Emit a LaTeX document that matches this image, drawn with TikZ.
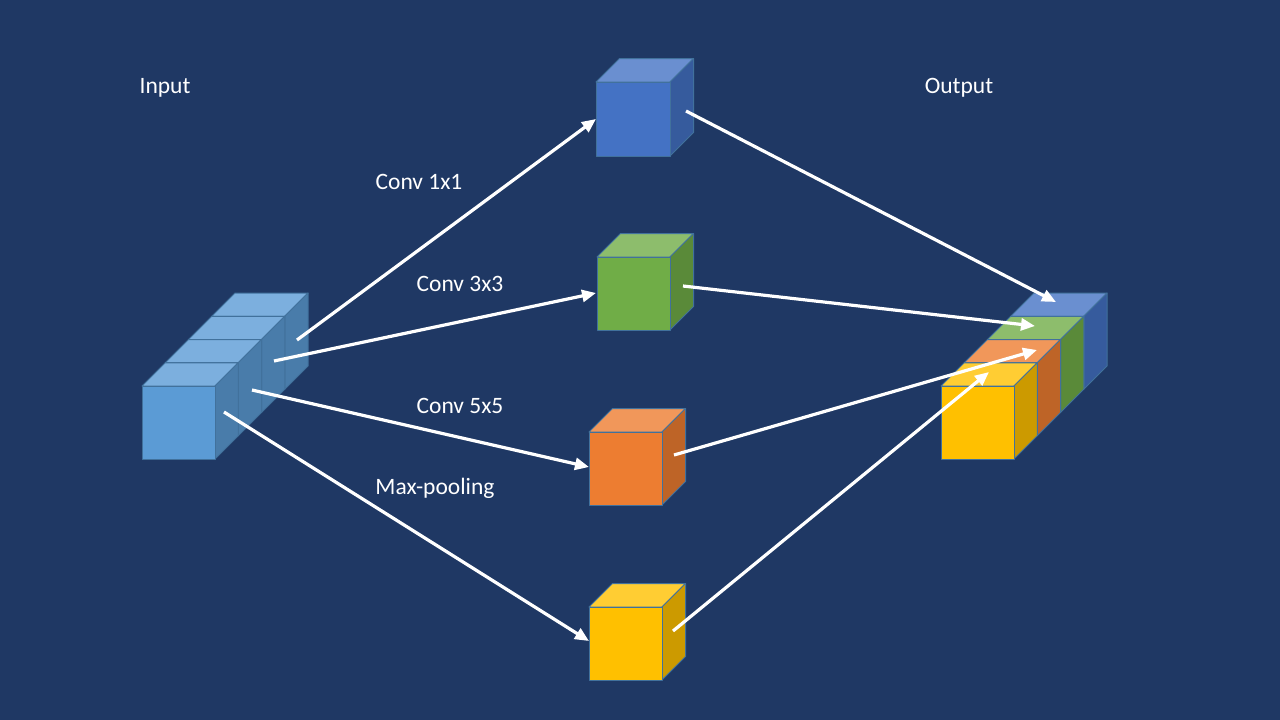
\documentclass[tikz,border=0pt]{standalone}
\usepackage{fontspec}
\setmainfont{Carlito}
\usetikzlibrary{arrows.meta}
\definecolor{bg}{HTML}{1F3864}
\definecolor{edge}{HTML}{41719C}
\definecolor{inF}{HTML}{5B9BD5}\definecolor{inT}{HTML}{7CAFDE}\definecolor{inS}{HTML}{497CAA}
\definecolor{bF}{HTML}{4472C4}\definecolor{bT}{HTML}{6A8FD0}\definecolor{bS}{HTML}{365B9D}
\definecolor{gF}{HTML}{70AD47}\definecolor{gT}{HTML}{8DBD6C}\definecolor{gS}{HTML}{5A8A39}
\definecolor{oF}{HTML}{ED7D31}\definecolor{oT}{HTML}{F1975A}\definecolor{oS}{HTML}{BE6427}
\definecolor{yF}{HTML}{FFC000}\definecolor{yT}{HTML}{FFCD33}\definecolor{yS}{HTML}{CC9A00}
\newcommand{\mycube}[7]{% x y w d front top side
  \filldraw[facestyle,fill=#6] (#1,#2) -- ({#1+#4},{#2-#4}) -- ({#1+#3+#4},{#2-#4}) -- ({#1+#3},#2) -- cycle;
  \filldraw[facestyle,fill=#7] ({#1+#3},#2) -- ({#1+#3+#4},{#2-#4}) -- ({#1+#3+#4},{#2+#3-#4}) -- ({#1+#3},{#2+#3}) -- cycle;
  \filldraw[facestyle,fill=#5] (#1,#2) rectangle ({#1+#3},{#2+#3});
}
\tikzset{
  facestyle/.style={draw=edge,line width=1pt,line join=round},
  flow/.style={draw=white,line width=3.2pt,-{Triangle[length=14pt,width=12pt]}},
  lbl/.style={text=white,font=\fontsize{23.5}{28}\selectfont,inner sep=0pt}
}
\begin{document}
\begin{tikzpicture}[x=1pt,y=-1pt]
\fill[bg] (0,0) rectangle (1280,720);
\useasboundingbox (0,0) rectangle (1280,720);
% input stack
\foreach \i in {3,2,1,0}{\mycube{142+23.25*\i}{386-23.25*\i}{73}{23.25}{inF}{inT}{inS}}
% output stack
\mycube{941+69.75}{386-69.75}{73}{23.25}{bF}{bT}{bS}
\mycube{941+46.5}{386-46.5}{73}{23.25}{gF}{gT}{gS}
\mycube{941+23.25}{386-23.25}{73}{23.25}{oF}{oT}{oS}
\mycube{941}{386}{73}{23.25}{yF}{yT}{yS}
% branch cubes
\mycube{596}{82}{74}{23.5}{bF}{bT}{bS}
\mycube{597}{257}{73}{23.5}{gF}{gT}{gS}
\mycube{589}{432}{73}{23.5}{oF}{oT}{oS}
\mycube{589}{607}{73}{23.5}{yF}{yT}{yS}
% labels
\node[lbl] (tin) at (165,88) {Input};
\node[lbl] (tout) at (959,88) {Output};
\node[lbl] (l1) at (419,182) {Conv 1x1};
\node[lbl] (l3) at (460,284) {Conv 3x3};
\node[lbl] (l5) at (460,406) {Conv 5x5};
\node[lbl] (lm) at (435,488) {Max-pooling};
% connector end points
\coordinate (s1) at (297,340); \coordinate (e1) at (596,119);
\coordinate (s3) at (274,361); \coordinate (e3) at (596,293);
\coordinate (s5) at (252,390); \coordinate (e5) at (589,467);
\coordinate (sm) at (224,412); \coordinate (em) at (589,641);
\coordinate (b1) at (686,111); \coordinate (o1) at (1056,302);
\coordinate (b3) at (683,286); \coordinate (o3) at (1035,326);
\coordinate (b5) at (674,455); \coordinate (o5) at (1037,350);
\coordinate (bm) at (673,631); \coordinate (om) at (989,372);
\draw[flow] (s1) -- (e1);
\draw[flow] (s3) -- (e3);
\draw[flow] (s5) -- (e5);
\draw[flow] (sm) -- (em);
\draw[flow] (b1) -- (o1);
\draw[flow] (b3) -- (o3);
\draw[flow] (b5) -- (o5);
\draw[flow] (bm) -- (om);
\end{tikzpicture}
\end{document}
